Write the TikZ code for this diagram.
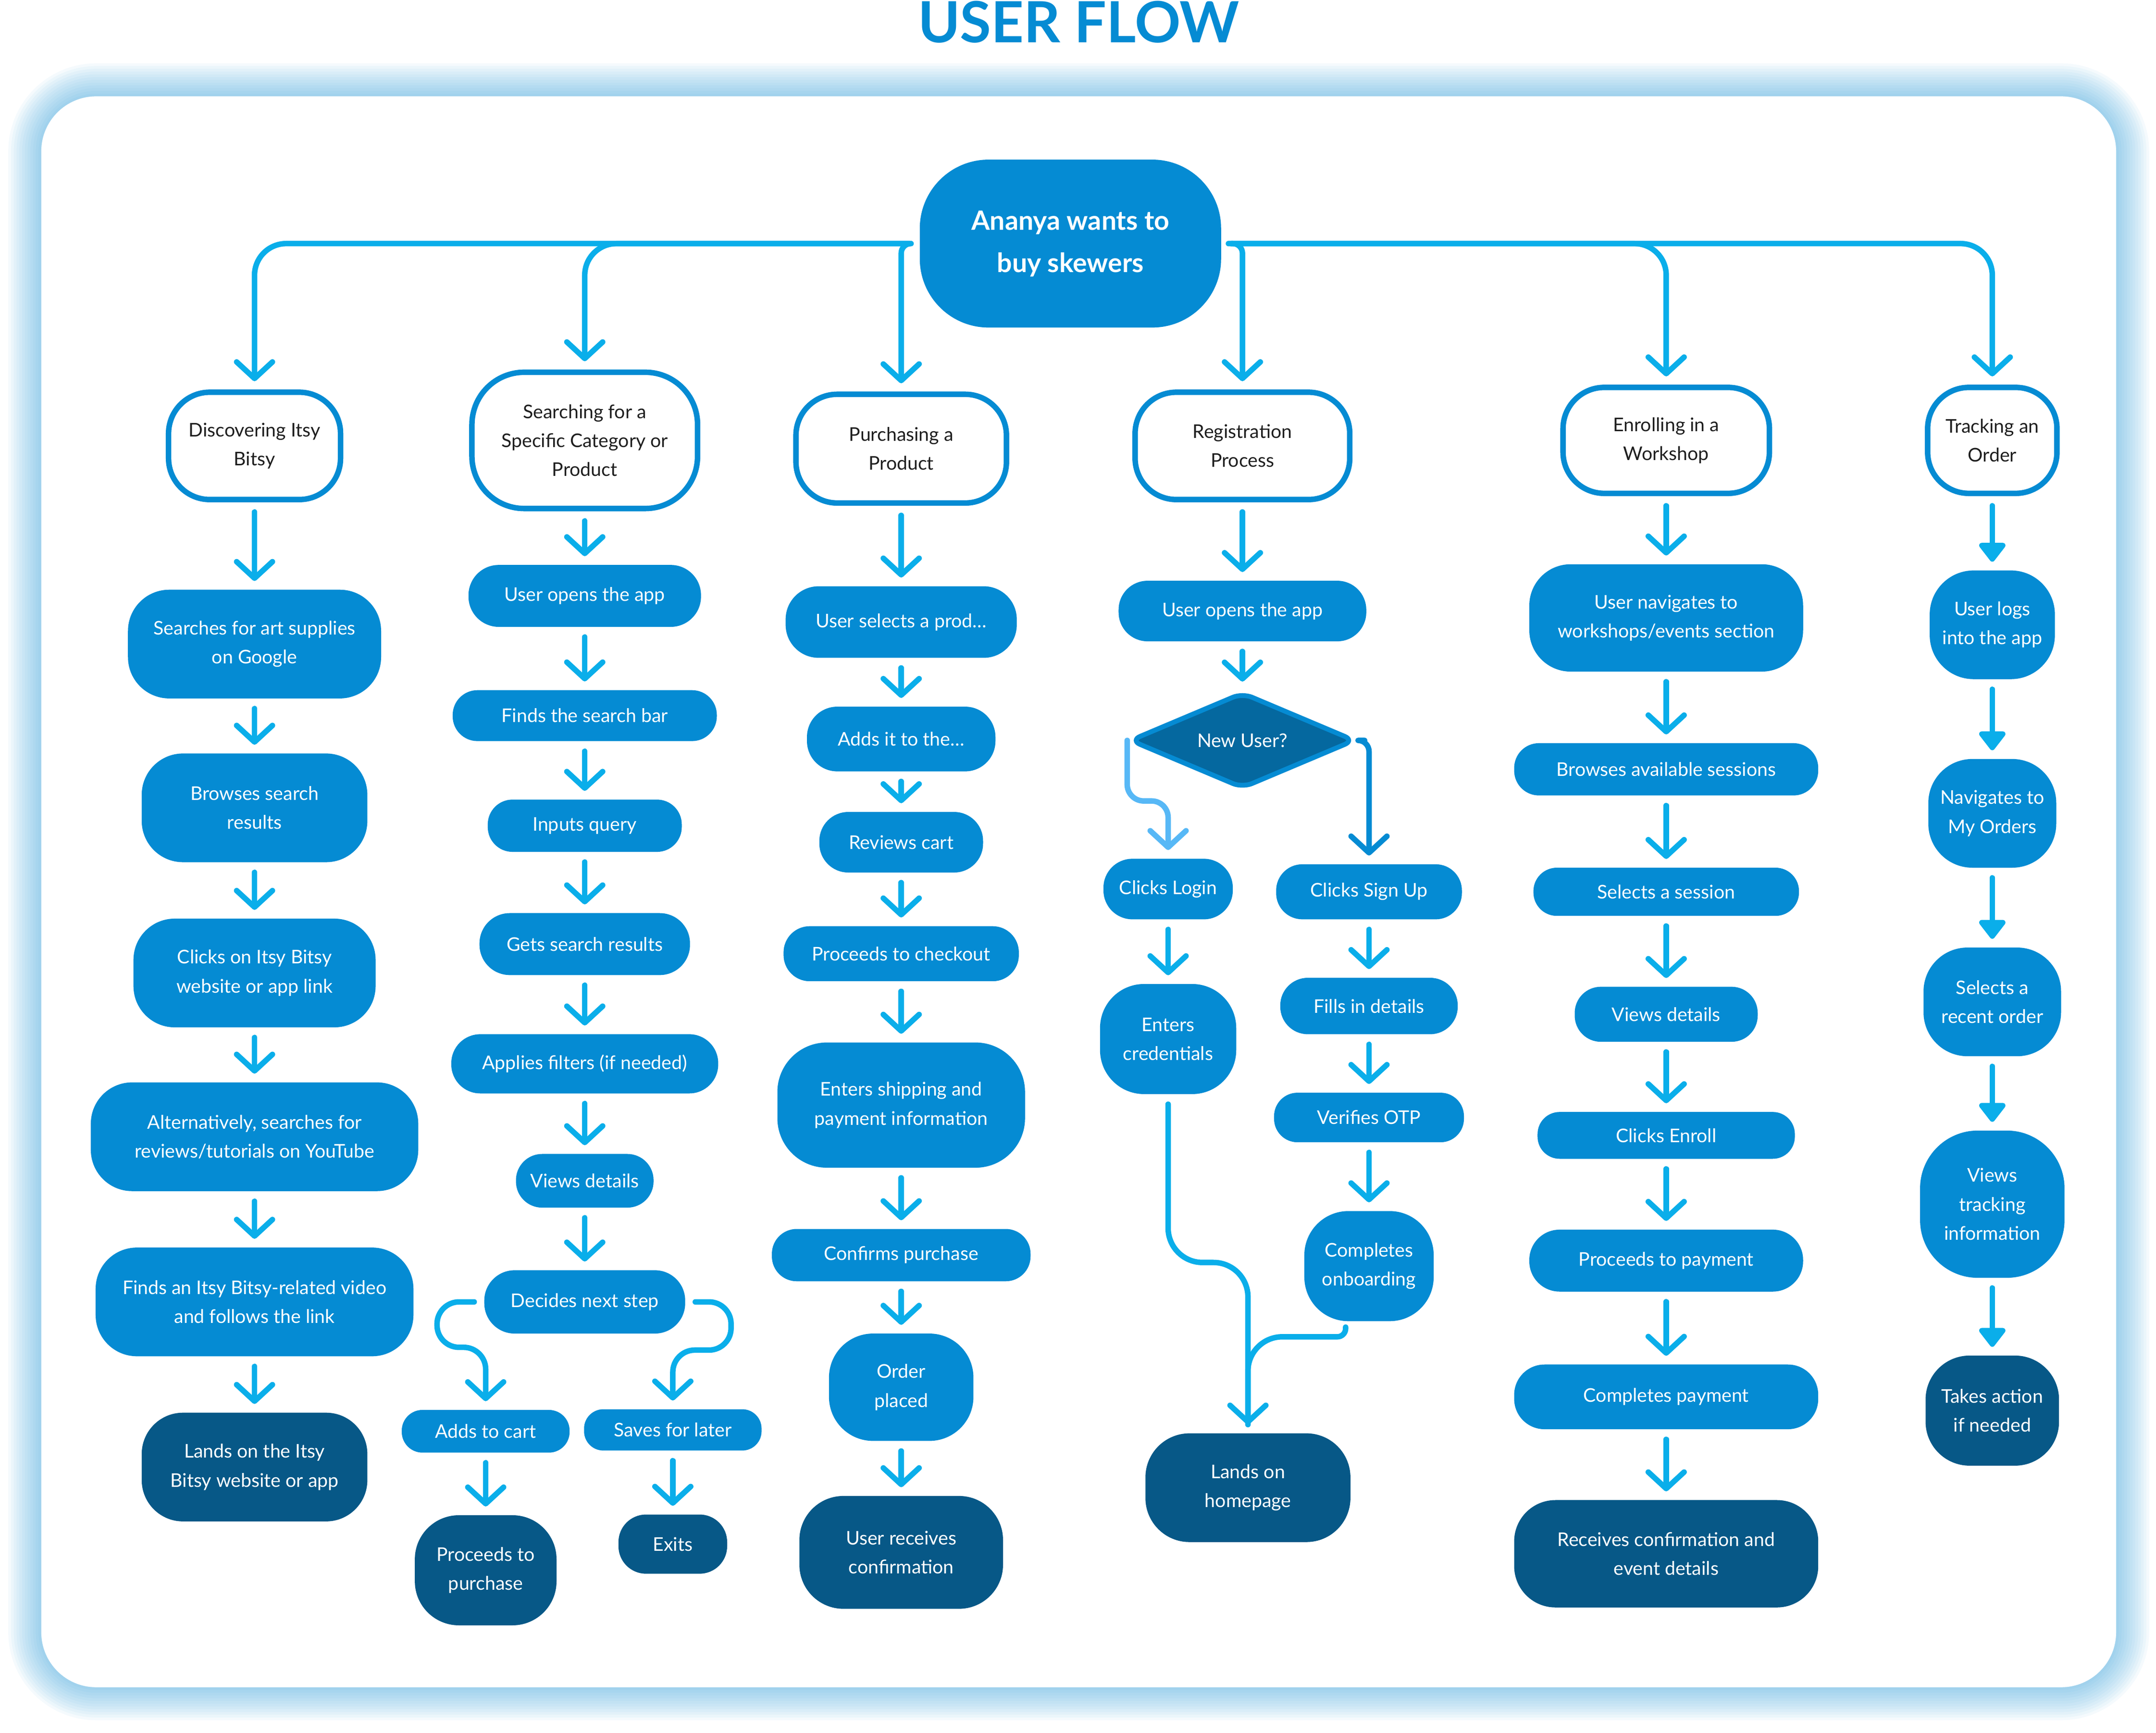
\documentclass[tikz,border=0pt]{standalone}
\usepackage{fontspec}
\setmainfont{Lato}
\usetikzlibrary{arrows.meta,shapes.geometric}

\definecolor{midblue}{HTML}{058BD3}
\definecolor{darkblue}{HTML}{075887}
\definecolor{lineblue}{HTML}{0AAEEA}
\definecolor{lightblue}{HTML}{57B8F6}
\definecolor{diamondblue}{HTML}{05689F}
\definecolor{glowblue}{HTML}{1B92D3}
\definecolor{textgray}{HTML}{1E1E1E}

\begin{document}
\begin{tikzpicture}[
        x=0.2mm, y=-0.2mm,
        sz/.style n args={3}{minimum width=#1*0.2mm, minimum height=#2*0.2mm, rounded corners=#3*0.2mm},
        task/.style={fill=midblue, text=white, align=center, inner sep=0pt, font=\fontsize{7.8}{12}\selectfont},
        head/.style={task, fill=white, draw=midblue, line width=0.8mm, text=textgray},
        final/.style={task, fill=darkblue},
        flow/.style={draw=lineblue, line width=0.8mm, line cap=round, line join=round,
            -{Straight Barb[length=2.4mm, width=5.2mm, round]}, shorten <=1.4mm, shorten >=1.2mm},
        flowtri/.style={flow, -{Triangle[length=3mm, width=4.4mm, round]}},
        link/.style={draw=lineblue, line width=0.8mm, line cap=round, line join=round}]
    \useasboundingbox (0,0) rectangle (1567,1259);

    % panel with glow
    \foreach \g in {1,...,12}
        \fill[glowblue, opacity=0.045, rounded corners={(40+2*\g)*0.2mm}]
            ({30-2*\g},{70-2*\g}) rectangle ({1538+2*\g},{1226+2*\g});
    \fill[white, rounded corners=8mm] (30,70) rectangle (1538,1226);

    \node[anchor=base, text=midblue, font=\fontsize{23.5}{28}\selectfont\bfseries] (title) at (784,31) {USER FLOW};

    \node[task, sz={219}{122}{50}, font=\fontsize{11}{17.5}\selectfont\bfseries] (root) at (778,177) {Ananya wants to\\buy skewers};

    % discovering
    \node[head, sz={125}{78}{30}] (disc) at (185,324) {Discovering Itsy\\Bitsy};
    \node[task, sz={184}{79}{30}] (google) at (185,468) {Searches for art supplies\\on Google};
    \node[task, sz={164}{79}{30}] (browse) at (185,587) {Browses search\\results};
    \node[task, sz={176}{79}{30}] (clicks) at (185,707) {Clicks on Itsy Bitsy\\website or app link};
    \node[task, sz={238}{79}{30}] (alt) at (185,826) {Alternatively, searches for\\reviews/tutorials on YouTube};
    \node[task, sz={231}{79}{30}] (video) at (185,946) {Finds an Itsy Bitsy-related video\\and follows the link};
    \node[final, sz={164}{79}{30}] (lands) at (185,1066) {Lands on the Itsy\\Bitsy website or app};

    % searching
    \node[head, sz={164}{99}{38}] (search) at (425,320) {Searching for a\\Specific Category or\\Product};
    \node[task, sz={169}{45}{22}] (open1) at (425,433) {User opens the app};
    \node[task, sz={192}{37}{18}] (bar) at (425,520) {Finds the search bar};
    \node[task, sz={141}{38}{18}] (query) at (425,600) {Inputs query};
    \node[task, sz={153}{45}{22}] (results) at (425,686) {Gets search results};
    \node[task, sz={194}{43}{21}] (filters) at (425,773) {Applies filters (if needed)};
    \node[task, sz={100}{39}{19}] (views1) at (425,858) {Views details};
    \node[task, sz={146}{46}{22}] (decide) at (425,946) {Decides next step};
    \node[task, sz={122}{31}{15}] (cart) at (353,1040) {Adds to cart};
    \node[task, sz={129}{30}{14}] (later) at (489,1039) {Saves for later};
    \node[final, sz={103}{80}{32}] (buy) at (353,1141) {Proceeds to\\purchase};
    \node[final, sz={79}{43}{20}] (exits) at (489,1122) {Exits};

    % purchasing
    \node[head, sz={153}{79}{30}] (purch) at (655,326) {Purchasing a\\Product};
    \node[task, sz={168}{52}{24}] (select) at (655,452) {User selects a prod…};
    \node[task, sz={137}{47}{22}] (addit) at (655,537) {Adds it to the…};
    \node[task, sz={119}{44}{21}] (review) at (655,612) {Reviews cart};
    \node[task, sz={171}{40}{19}] (checkout) at (655,693) {Proceeds to checkout};
    \node[task, sz={180}{91}{36}] (ship) at (655,803) {Enters shipping and\\payment information};
    \node[task, sz={188}{38}{18}] (confirm) at (655,912) {Confirms purchase};
    \node[task, sz={105}{78}{32}] (placed) at (655,1008) {Order\\placed};
    \node[final, sz={148}{82}{32}] (receive) at (655,1128) {User receives\\confirmation};

    % registration
    \node[head, sz={156}{78}{30}] (reg) at (903,324) {Registration\\Process};
    \node[task, sz={180}{44}{21}] (open2) at (903,444) {User opens the app};
    \node[diamond, aspect=2.4, fill=diamondblue, draw=midblue, line width=0.7mm, rounded corners=1.5mm,
        minimum width=164*0.2mm, minimum height=70*0.2mm, inner sep=0pt, text=white,
        font=\fontsize{7.8}{12}\selectfont] (newuser) at (903,538) {New User?};
    \node[task, sz={94}{44}{21}] (login) at (849,646) {Clicks Login};
    \node[task, sz={135}{40}{19}] (signup) at (995,648) {Clicks Sign Up};
    \node[task, sz={99}{80}{32}] (cred) at (849,755) {Enters\\credentials};
    \node[task, sz={129}{41}{20}] (details) at (995,731) {Fills in details};
    \node[task, sz={138}{36}{17}] (otp) at (995,812) {Verifies OTP};
    \node[task, sz={94}{80}{32}] (onboard) at (995,920) {Completes\\onboarding};
    \node[final, sz={149}{79}{32}] (home) at (907,1081) {Lands on\\homepage};

    % workshop
    \node[head, sz={150}{77}{30}] (enroll) at (1211,320) {Enrolling in a\\Workshop};
    \node[task, sz={199}{78}{30}] (nav) at (1211,449) {User navigates to\\workshops/events section};
    \node[task, sz={221}{38}{18}] (sessions) at (1211,559) {Browses available sessions};
    \node[task, sz={193}{35}{17}] (session) at (1211,648) {Selects a session};
    \node[task, sz={133}{40}{19}] (views2) at (1211,737) {Views details};
    \node[task, sz={187}{34}{16}] (enrollbtn) at (1211,825) {Clicks Enroll};
    \node[task, sz={199}{45}{22}] (pay) at (1211,916) {Proceeds to payment};
    \node[task, sz={221}{47}{22}] (paid) at (1211,1015) {Completes payment};
    \node[final, sz={221}{78}{30}] (event) at (1211,1129) {Receives confirmation and\\event details};

    % tracking
    \node[head, sz={94}{77}{30}] (track) at (1448,320) {Tracking an\\Order};
    \node[task, sz={91}{79}{32}] (logs) at (1448,454) {User logs\\into the app};
    \node[task, sz={93}{79}{32}] (orders) at (1448,591) {Navigates to\\My Orders};
    \node[task, sz={100}{79}{32}] (recent) at (1448,728) {Selects a\\recent order};
    \node[task, sz={105}{107}{42}] (tracking) at (1448,875) {Views\\tracking\\information};
    \node[final, sz={97}{80}{32}] (action) at (1448,1025) {Takes action\\if needed};

    % from the root
    \draw[flow, rounded corners=4.6mm] (root.west) -| (disc);
    \draw[flow, rounded corners=4.6mm] (root.west) -| (search);
    \draw[flow, rounded corners=1.4mm, shorten <=1.2mm] (root.west) -| (purch);
    \draw[flow, rounded corners=1.4mm, shorten <=1mm] (root.east) -| (reg);
    \draw[flow, rounded corners=4.6mm] (root.east) -| (enroll);
    \draw[flow, rounded corners=4.6mm] (root.east) -| (track);

    \draw[flow] (disc) -- (google);
    \draw[flow] (google) -- (browse);
    \draw[flow] (browse) -- (clicks);
    \draw[flow] (clicks) -- (alt);
    \draw[flow] (alt) -- (video);
    \draw[flow] (video) -- (lands);

    \draw[flow] (search) -- (open1);
    \draw[flow] (open1) -- (bar);
    \draw[flow] (bar) -- (query);
    \draw[flow] (query) -- (results);
    \draw[flow] (results) -- (filters);
    \draw[flow] (filters) -- (views1);
    \draw[flow] (views1) -- (decide);
    \draw[flow, rounded corners=3.2mm] (decide.west) -- ++(-34,0) -- ++(0,33) -| (cart);
    \draw[flow, rounded corners=3.2mm] (decide.east) -- ++(33,0) -- ++(0,35) -| (later);
    \draw[flow] (cart) -- (buy);
    \draw[flow] (later) -- (exits);

    \draw[flow] (purch) -- (select);
    \draw[flow] (select) -- (addit);
    \draw[flow] (addit) -- (review);
    \draw[flow] (review) -- (checkout);
    \draw[flow] (checkout) -- (ship);
    \draw[flow] (ship) -- (confirm);
    \draw[flow] (confirm) -- (placed);
    \draw[flow] (placed) -- (receive);

    \draw[flow] (reg) -- (open2);
    \draw[flow] (open2) -- (newuser);
    \draw[flow, draw=lightblue, rounded corners=2.4mm, shorten <=0pt] (newuser.west) -- ++(0,44) -| (login);
    \draw[flow, draw=midblue, rounded corners=1.6mm, shorten <=1mm] (newuser.east) -| (signup);
    \draw[flow] (login) -- (cred);
    \draw[flow] (signup) -- (details);
    \draw[flow] (details) -- (otp);
    \draw[flow] (otp) -- (onboard);
    \draw[flow, rounded corners=5mm] (cred.south) -- ++(0,122) -| (home);
    \draw[link, shorten >=1.2mm] ([xshift=-3.4mm, yshift=-0.8mm]onboard.south) [rounded corners=1.2mm] -- ++(0,7) [rounded corners=5mm] -| (home.north);

    \draw[flow] (enroll) -- (nav);
    \draw[flow] (nav) -- (sessions);
    \draw[flow] (sessions) -- (session);
    \draw[flow] (session) -- (views2);
    \draw[flow] (views2) -- (enrollbtn);
    \draw[flow] (enrollbtn) -- (pay);
    \draw[flow] (pay) -- (paid);
    \draw[flow] (paid) -- (event);

    \draw[flowtri] (track) -- (logs);
    \draw[flowtri] (logs) -- (orders);
    \draw[flowtri] (orders) -- (recent);
    \draw[flowtri] (recent) -- (tracking);
    \draw[flowtri] (tracking) -- (action);
\end{tikzpicture}
\end{document}
